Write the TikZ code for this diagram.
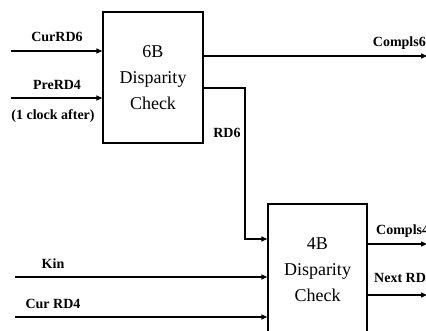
\documentclass[tikz,border=0pt]{standalone}
\usepackage{fontspec}
\setmainfont{Liberation Serif}
\usetikzlibrary{arrows.meta}
\begin{document}
\begin{tikzpicture}[x=1pt,y=-1pt,
  blockbox/.style={draw,line width=1.4pt,inner sep=0pt},
  blocktext/.style={align=center,font=\fontsize{18}{26}\selectfont},
  sig/.style={font=\fontsize{14}{16}\selectfont\bfseries,inner sep=0pt},
  wire/.style={line width=1.4pt},
  arr/.style={wire,-{Triangle[length=6pt,width=5pt]}}]
\useasboundingbox (0,0) rectangle (426,331);
\clip (0,0) rectangle (426,331);

% 6B disparity block
\node[blockbox,minimum width=100pt,minimum height=131pt] (b6) at (153,77.5) {};
\node[blocktext] (t6) at (153,78) {6B\\Disparity\\Check};

% 4B disparity block (runs off the lower edge)
\node[blockbox,minimum width=99pt,minimum height=160pt] (b4) at (317.5,284) {};
\node[blocktext] (t4) at (317.5,270) {4B\\Disparity\\Check};

% input and output end points
\coordinate (curin) at (11,51);
\coordinate (prein) at (11,98);
\coordinate (kin) at (15,277);
\coordinate (rd4in) at (15,317);
\coordinate (c6out) at (427,56);
\coordinate (rdA) at (203,88);
\coordinate (rdB) at (245,88);
\coordinate (rdC) at (245,239);
\coordinate (c4a) at (367,244);
\coordinate (c4out) at (427,244);
\coordinate (nra) at (367,295);
\coordinate (nrout) at (427,295);

% connectors
\draw[arr] (curin) -- (curin -| b6.west);
\draw[arr] (prein) -- (prein -| b6.west);
\draw[arr] (c6out -| b6.east) -- (c6out);
\draw[arr] (rdA) -- (rdB) -- (rdC) -- (rdC -| b4.west);
\draw[arr] (kin) -- (kin -| b4.west);
\draw[arr] (rd4in) -- (rd4in -| b4.west);
\draw[arr] (c4a) -- (c4out);
\draw[arr] (nra) -- (nrout);

% signal labels
\node[sig] (lcur) at (57,37) {CurRD6};
\node[sig] (lpre) at (57,85) {PreRD4};
\node[sig] (lclk) at (53,116) {(1 clock after)};
\node[sig] (lrd6) at (227,133) {RD6};
\node[sig,anchor=east] (lc6) at (426,43) {Compls6};
\node[sig] (lkin) at (53,264) {Kin};
\node[sig] (lrd4) at (53,304) {Cur RD4};
\node[sig,anchor=west] (lc4) at (376,231) {Compls4};
\node[sig,anchor=west] (lnr) at (374,278) {Next RD4};
\end{tikzpicture}
\end{document}
